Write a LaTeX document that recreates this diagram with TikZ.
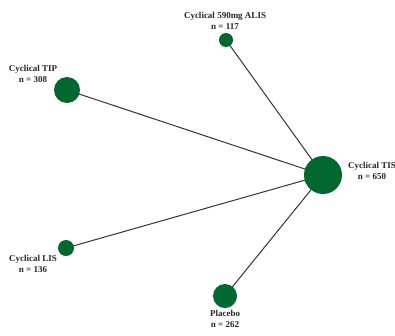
\documentclass[tikz,border=0pt]{standalone}
\usepackage{fontspec}
\setmainfont{Liberation Serif}
\usetikzlibrary{backgrounds}
\definecolor{nodegreen}{RGB}{0,104,46}
\tikzset{
  trt/.style={circle, fill=nodegreen, draw=none, inner sep=0pt, minimum size=#1},
  lbl/.style={font=\bfseries\fontsize{9}{10.5}\selectfont, align=center, inner sep=0pt, text=black!85},
  edge/.style={draw=black!80, line width=1pt}
}
\begin{document}
\begin{tikzpicture}[x=1pt,y=-1pt]
\useasboundingbox (0,0) rectangle (395,335);
\node[trt=38pt] (tis) at (323,175) {};
\node[trt=14pt] (alis) at (226,40) {};
\node[trt=26pt] (tip) at (67,90) {};
\node[trt=16pt] (lis) at (66,248) {};
\node[trt=24pt] (pla) at (225,296) {};
\begin{scope}[on background layer]
\draw[edge] (tis.center) -- (alis.center);
\draw[edge] (tis.center) -- (tip.center);
\draw[edge] (tis.center) -- (lis.center);
\draw[edge] (tis.center) -- (pla.center);
\end{scope}
\node[lbl] (lalis) at (225,21) {Cyclical 590mg ALIS\\n = 117};
\node[lbl] (ltip) at (33,74) {Cyclical TIP\\n = 308};
\node[lbl] (ltis) at (372,171) {Cyclical TIS\\n = 650};
\node[lbl] (llis) at (33,264) {Cyclical LIS\\n = 136};
\node[lbl] (lpla) at (225,319) {Placebo\\n = 262};
\end{tikzpicture}
\end{document}
